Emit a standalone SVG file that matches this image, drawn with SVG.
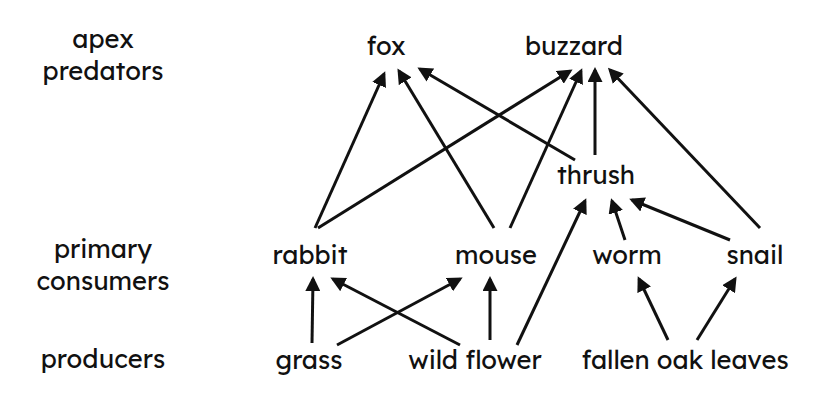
<svg xmlns="http://www.w3.org/2000/svg" width="828" height="412" viewBox="0 0 828 412">
<style>
text{font-family:"Lexend","Noto Sans","DejaVu Sans",sans-serif;font-size:25.5px;fill:#111;text-anchor:middle}
.e line{stroke:#111;stroke-width:3;marker-end:url(#a)}
</style>
<defs><marker id="a" viewBox="0 0 10 10" refX="8" refY="5" markerWidth="5" markerHeight="5" orient="auto" markerUnits="strokeWidth"><path d="M0,0L10,5L0,10z" fill="#111"/></marker></defs>
<rect width="828" height="412" fill="#fff"/>
<g id="labels">
<text x="103" y="48">apex</text><text x="103" y="80">predators</text>
<text x="103" y="258">primary</text><text x="103" y="290">consumers</text>
<text x="103" y="368">producers</text>
</g>
<g id="fox"><text x="386" y="55">fox</text></g>
<g id="buzzard"><text x="574" y="55">buzzard</text></g>
<g id="thrush"><text x="596" y="184">thrush</text></g>
<g id="rabbit"><text x="310" y="264">rabbit</text></g>
<g id="mouse"><text x="496" y="264">mouse</text></g>
<g id="worm"><text x="627" y="264">worm</text></g>
<g id="snail"><text x="755" y="264">snail</text></g>
<g id="grass"><text x="309" y="369">grass</text></g>
<g id="wildflower"><text x="475" y="369">wild flower</text></g>
<g id="oak"><text x="685" y="369">fallen oak leaves</text></g>
<g class="e">
<line x1="315" y1="228" x2="384" y2="74"/>
<line x1="494" y1="228" x2="399" y2="71"/>
<line x1="575" y1="160" x2="420" y2="69"/>
<line x1="318" y1="228" x2="570" y2="71"/>
<line x1="510" y1="228" x2="581" y2="71"/>
<line x1="595" y1="155" x2="595" y2="70"/>
<line x1="760" y1="228" x2="610" y2="70"/>
<line x1="625" y1="240" x2="612" y2="201"/>
<line x1="730" y1="240" x2="632" y2="200"/>
<line x1="517" y1="345" x2="585" y2="201"/>
<line x1="312" y1="343" x2="313" y2="279"/>
<line x1="460" y1="345" x2="333" y2="279"/>
<line x1="337" y1="345" x2="460" y2="279"/>
<line x1="490" y1="340" x2="490" y2="279"/>
<line x1="668" y1="340" x2="639" y2="279"/>
<line x1="697" y1="340" x2="735" y2="279"/>
</g>
</svg>
